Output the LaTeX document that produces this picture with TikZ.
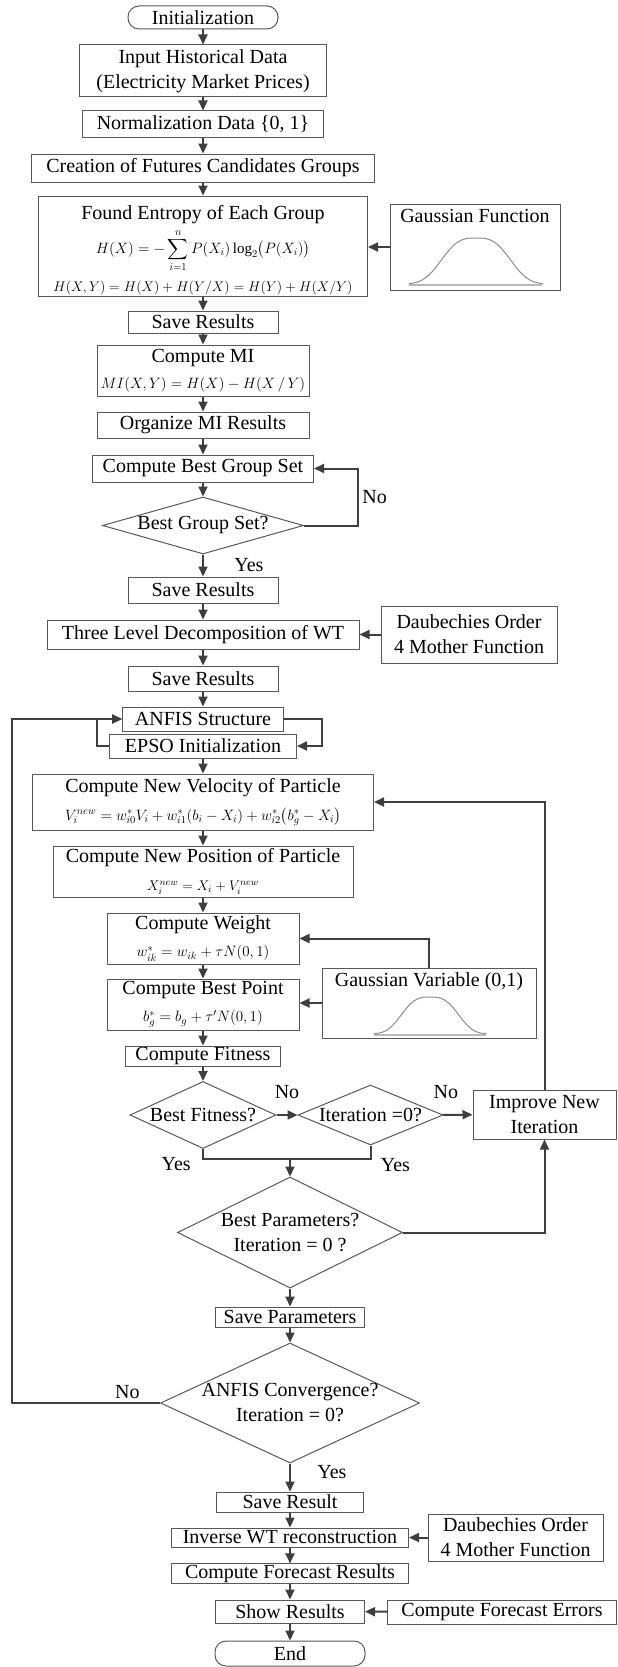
\RequirePackage{fix-cm}
\documentclass[tikz,border=0pt]{standalone}
\usepackage{fontspec}
\setmainfont{Liberation Serif}
\usepackage{amsmath}
\usepackage{tikz}
\usetikzlibrary{shapes.geometric,arrows.meta}
\definecolor{linecol}{RGB}{62,62,62}
\definecolor{boxcol}{RGB}{88,88,88}
\definecolor{curvecol}{RGB}{140,140,140}
\newcommand{\fml}{\fontsize{15}{18}\selectfont}
\newcommand{\fmls}{\fontsize{14}{17}\selectfont}

\begin{document}
\begin{tikzpicture}[x=1pt, y=-1pt,
	every node/.style={font=\fontsize{20}{25}\selectfont},
	box/.style={rectangle, draw=boxcol, line width=1pt, inner xsep=2pt, inner ysep=0.5pt, align=center},
	term/.style={box, rounded corners=11pt},
	decision/.style={diamond, draw=boxcol, line width=1pt, inner sep=0pt},
	arr/.style={draw=linecol, line width=2pt, -{Triangle[length=10pt,width=9pt]}},
	conn/.style={draw=linecol, line width=2pt},
	bell/.style={draw=curvecol, line width=1pt}]
	\useasboundingbox (0,0) rectangle (618,1667);
	\node (init) at (203,17.5) [term, minimum width=150pt, minimum height=23pt] {Initialization};
	\node (input) at (203,71) [box, minimum width=247pt, minimum height=52pt] {Input Historical Data\\(Electricity Market Prices)};
	\node (norm) at (203,124.5) [box, minimum width=241pt, minimum height=27pt] {Normalization Data \{0, 1\}};
	\node (create) at (203,168) [box, minimum width=343pt, minimum height=28pt] {Creation of Futures Candidates Groups};
	\node (entropy) at (203,246) [box, minimum width=329pt, minimum height=100pt] {\rule{0pt}{22pt}Found Entropy of Each Group\\[5pt]
		{\fml $\displaystyle H(X)=-\sum_{i=1}^{n}P(X_i)\log_2\bigl(P(X_i)\bigr)$}\\[8pt]
		{\fmls $H(X,Y)=H(X)+H(Y/X)=H(Y)+H(X/Y)$}};
	\node (gauss) at (475,247) [box, minimum width=170pt, minimum height=86pt, label={[anchor=north, yshift=-2pt]north:{Gaussian Function}}] {};
	\node (save1) at (203,322) [box, minimum width=150pt, minimum height=22pt] {Save Results};
	\node (mi) at (203,370.5) [box, minimum width=212pt, minimum height=51pt] {Compute MI\\[1pt]{\fml $MI(X,Y)=H(X)-H(X\,/\,Y)$}};
	\node (organize) at (203,425) [box, minimum width=212pt, minimum height=26pt] {Organize MI Results};
	\node (bestset) at (203,468.5) [box, minimum width=221pt, minimum height=27pt] {Compute Best Group Set};
	\node (bestq) at (203,525.5) [decision, minimum width=201pt, minimum height=57pt, label={center:{Best Group Set?}}] {};
	\node (save2) at (203,590) [box, minimum width=150pt, minimum height=26pt] {Save Results};
	\node (decomp) at (203,634.5) [box, minimum width=312pt, minimum height=29pt] {Three Level Decomposition of WT};
	\node (daub1) at (469,634.5) [box, minimum width=176pt, minimum height=57pt] {Daubechies Order\\4 Mother Function};
	\node (save3) at (203,678.5) [box, minimum width=150pt, minimum height=25pt] {Save Results};
	\node (anfis) at (203,719) [box, minimum width=161pt, minimum height=24pt] {ANFIS Structure};
	\node (epso) at (203,746) [box, minimum width=187pt, minimum height=24pt] {EPSO Initialization};
	\node (velocity) at (203,802) [box, minimum width=341pt, minimum height=56pt] {Compute New Velocity of Particle\\[3pt]
		{\fml $V_i^{new}=w_{i0}^{*}V_i+w_{i1}^{*}(b_i-X_i)+w_{i2}^{*}\bigl(b_g^{*}-X_i\bigr)$}};
	\node (position) at (203,871.5) [box, minimum width=300pt, minimum height=51pt] {Compute New Position of Particle\\[3pt]{\fmls $X_i^{new}=X_i+V_i^{new}$}};
	\node (weight) at (203,938.5) [box, minimum width=192pt, minimum height=51pt] {Compute Weight\\[2pt]{\fml $w_{ik}^{*}=w_{ik}+\tau N(0,1)$}};
	\node (gvar) at (429,1003) [box, minimum width=214pt, minimum height=70pt, label={[anchor=north, yshift=-2pt]north:{Gaussian Variable (0,1)}}] {};
	\node (bestpt) at (203,1004.5) [box, minimum width=192pt, minimum height=51pt] {Compute Best Point\\[2pt]{\fml $b_g^{*}=b_g+\tau' N(0,1)$}};
	\node (fitness) at (203,1056) [box, minimum width=155pt, minimum height=20pt] {Compute Fitness};
	\node (fitq) at (203,1115) [decision, minimum width=146pt, minimum height=67pt, label={center:{Best Fitness?}}] {};
	\node (iterq) at (370.5,1115) [decision, minimum width=145pt, minimum height=60pt, label={center:{Iteration =0?}}] {};
	\node (improve) at (544.5,1114.5) [box, minimum width=143pt, minimum height=49pt] {Improve New\\Iteration};
	\coordinate (join) at (290,1159);
	\node (paramq) at (290,1232.5) [decision, minimum width=225pt, minimum height=111pt, label={[align=center]center:{Best Parameters?\\Iteration = 0 ?}}] {};
	\node (savepar) at (290,1317) [box, minimum width=149pt, minimum height=20pt] {Save Parameters};
	\node (convq) at (290,1403) [decision, minimum width=259pt, minimum height=120pt, label={[align=center]center:{ANFIS Convergence?\\Iteration = 0?}}] {};
	\node (saveres) at (290,1502) [box, minimum width=147pt, minimum height=20pt] {Save Result};
	\node (inverse) at (290,1537.5) [box, minimum width=237pt, minimum height=19pt] {Inverse WT reconstruction};
	\node (daub2) at (515.5,1537.5) [box, minimum width=175pt, minimum height=47pt] {Daubechies Order\\4 Mother Function};
	\node (forecast) at (290,1573.5) [box, minimum width=237pt, minimum height=19pt] {Compute Forecast Results};
	\node (showres) at (290,1611.5) [box, minimum width=149pt, minimum height=23pt] {Show Results};
	\node (errors) at (502,1612) [box, minimum width=229pt, minimum height=24pt] {Compute Forecast Errors};
	\node (stop) at (290,1653.5) [term, minimum width=150pt, minimum height=25pt] {End};
	% bell curves
	\draw[curvecol!60, line width=1.5pt] (409,285) -- (542,285);
	\draw[bell] plot[domain=-67:67, samples=80] ({476+\x}, {284-46*exp(-(abs(\x)/40)^3)});
	\draw[curvecol!60, line width=1.5pt] (374,1035) -- (486,1035);
	\draw[bell] plot[domain=-56:56, samples=80] ({430+\x}, {1034-37*exp(-(abs(\x)/33)^3)});
	% main flow
	\draw[arr] (init) to (input);
	\draw[arr] (input) to (norm);
	\draw[arr] (norm) to (create);
	\draw[arr] (create) to (entropy);
	\draw[arr] (gauss.west) to (entropy.east |- gauss.west);
	\draw[arr] (entropy) to (save1);
	\draw[arr] (save1) to (mi);
	\draw[arr] (mi) to (organize);
	\draw[arr] (organize) to (bestset);
	\draw[arr] (bestset) to (bestq);
	\draw[arr] (bestq.east) -- ++(54,0) |- node [right, pos=0.25] {No} (bestset.east);
	\draw[arr] (bestq) to node [right, xshift=27pt] {Yes} (save2);
	\draw[arr] (save2) to (decomp);
	\draw[arr] (daub1) to (decomp);
	\draw[arr] (decomp) to (save3);
	\draw[arr] (save3) to (anfis);
	\draw[arr] (anfis.east) -- ++(38,0) |- (epso.east);
	\draw[arr] (epso.west) -- ++(-12,0) |- (anfis.west);
	\draw[arr] (epso) to (velocity);
	\draw[arr] (velocity) to (position);
	\draw[arr] (position) to (weight);
	\draw[arr] (gvar.north) |- (weight.east);
	\draw[arr] (weight) to (bestpt);
	\draw[arr] (gvar.west) to (bestpt.east |- gvar.west);
	\draw[arr] (bestpt) to (fitness);
	\draw[arr] (fitness) to (fitq);
	\draw[arr] (fitq) to node [above, yshift=12pt] {No} (iterq);
	\draw[arr] (iterq) to node [above, yshift=12pt, pos=0.1] {No} (improve);
	\draw[arr] (improve.north) |- (velocity.east);
	\draw[conn] (fitq.south) |- node [below left, xshift=-8pt, yshift=6pt] {Yes} (join);
	\draw[conn] (iterq.south) |- node [below right, xshift=6pt, yshift=5pt] {Yes} (join);
	\draw[arr] (join) to (paramq.north);
	\draw[arr] (paramq.east) -| (improve.south);
	\draw[arr] (paramq) to (savepar);
	\draw[arr] (savepar) to (convq);
	\draw[arr] (convq.west) -- node [above, pos=0.22] {No} ++(-148.5,0) |- (anfis.west);
	\draw[arr] (convq) to node [right, xshift=23pt, yshift=5pt] {Yes} (saveres);
	\draw[arr] (saveres) to (inverse);
	\draw[arr] (daub2) to (inverse);
	\draw[arr] (inverse) to (forecast);
	\draw[arr] (forecast) to (showres);
	\draw[arr] (errors) to (showres);
	\draw[arr] (showres) to (stop);
\end{tikzpicture}
\end{document}
